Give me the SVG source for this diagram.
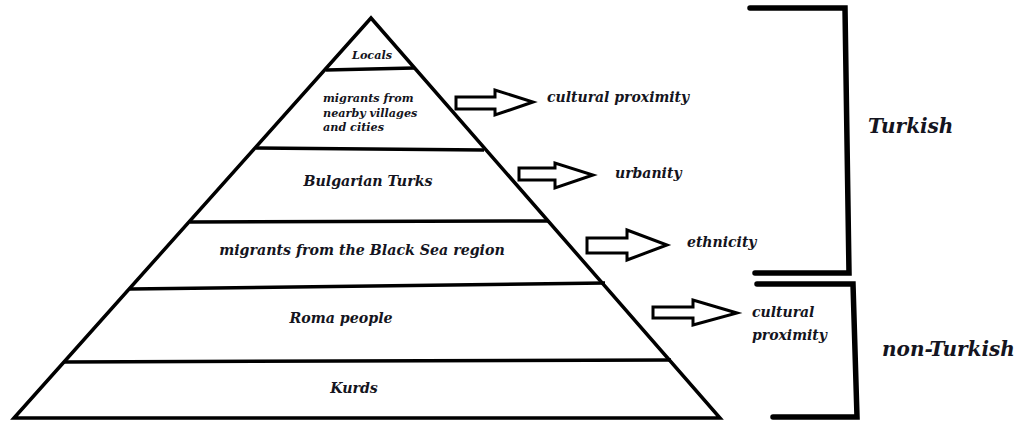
<svg xmlns="http://www.w3.org/2000/svg" width="1018" height="421" viewBox="0 0 1018 421">
<style>
.edge{fill:none;stroke:#000;stroke-width:3.5;stroke-linecap:round;stroke-linejoin:miter}
.div{fill:none;stroke:#000;stroke-width:3.5;stroke-linecap:butt}
.br{fill:none;stroke:#000;stroke-width:5.5;stroke-linecap:round;stroke-linejoin:miter}
.arr{fill:#fff;stroke:#000;stroke-width:3;stroke-linejoin:miter}
text{font-family:"DejaVu Serif","Liberation Serif",serif;font-weight:bold;font-style:italic;fill:#141420}
.t{font-size:14.2px;text-anchor:middle}
.s{font-size:11.2px}
.l{font-size:14px}
.big{font-size:20px}
</style>
<rect width="1018" height="421" fill="#fff"/>
<g id="pyramid">
<path class="edge" d="M14,418 L371,18 L720,418 Z"/>
</g>
<g id="tier-locals">
<line class="div" x1="326" y1="70" x2="414" y2="68"/>
<text class="s" x="372" y="59" text-anchor="middle">Locals</text>
</g>
<g id="tier-migrants-nearby">
<line class="div" x1="256" y1="148" x2="484" y2="150"/>
<text class="s" x="323" y="102">migrants from</text>
<text class="s" x="323" y="117">nearby villages</text>
<text class="s" x="323" y="131">and cities</text>
</g>
<g id="tier-bulgarian-turks">
<line class="div" x1="190" y1="222" x2="548" y2="221"/>
<text class="t" x="368" y="186">Bulgarian Turks</text>
</g>
<g id="tier-black-sea">
<line class="div" x1="130" y1="289" x2="605" y2="283"/>
<text class="t" x="362" y="255">migrants from the Black Sea region</text>
</g>
<g id="tier-roma">
<line class="div" x1="64" y1="362" x2="671" y2="360"/>
<text class="t" x="341" y="323">Roma people</text>
</g>
<g id="tier-kurds">
<text class="t" x="354" y="393">Kurds</text>
</g>
<g id="connectors">
<path class="arr" d="M456,97 L495,97 L495,90 L533,102 L495,115 L495,109 L456,109 Z"/>
<path class="arr" d="M519,168 L555,168 L555,163 L593,175 L555,188 L555,180 L519,180 Z"/>
<path class="arr" d="M587,238 L627,238 L627,230 L667,245 L627,260 L627,253 L587,253 Z"/>
<path class="arr" d="M653,307 L693,307 L693,300 L737,313 L693,325 L693,318 L653,318 Z"/>
</g>
<g id="label-cultural-proximity-1">
<text class="l" x="547" y="102">cultural proximity</text>
</g>
<g id="label-urbanity">
<text class="l" x="615" y="178">urbanity</text>
</g>
<g id="label-ethnicity">
<text class="l" x="687" y="247">ethnicity</text>
</g>
<g id="label-cultural-proximity-2">
<text class="l" x="752" y="317">cultural</text>
<text class="l" x="752" y="340">proximity</text>
</g>
<g id="bracket-turkish">
<path class="br" d="M750,8 L845,8 L849,273 L755,273"/>
<text class="big" x="868" y="133">Turkish</text>
</g>
<g id="bracket-non-turkish">
<path class="br" d="M757,284 L853,284 L857,417 L773,417"/>
<text class="big" x="882" y="356">non-Turkish</text>
</g>
</svg>
